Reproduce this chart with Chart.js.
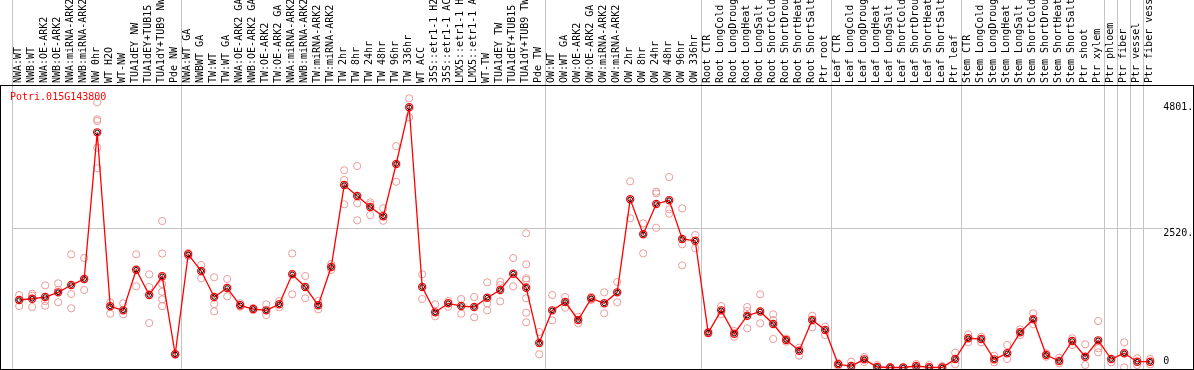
<!DOCTYPE html>
<html>
<head>
<meta charset="utf-8">
<script src="https://cdn.jsdelivr.net/npm/chart.js@4"></script>
<style>
  body { margin: 0; background: #fff; }
</style>
</head>
<body>
<canvas id="canvas" width="1194" height="370"></canvas>
<script>
const geneId = 'Potri.015G143800';

const samples = [
  'NWA:WT', 'NWB:WT', 'NWA:OE-ARK2', 'NWB:OE-ARK2', 'NWA:miRNA-ARK2', 'NWB:miRNA-ARK2',
  'NW 0hr', 'WT H2O', 'WT-NW', 'TUA1dEY NW', 'TUA1dEY+TUB15', 'TUA1dY+TUB9 NW', 'Pde NW',
  'NWA:WT GA', 'NWBWT GA', 'TW:WT', 'TW:WT GA', 'NWA:OE-ARK2 GA', 'NWB:OE-ARK2 GA',
  'TW:OE-ARK2', 'TW:OE-ARK2 GA', 'NWA:miRNA-ARK2', 'NWB:miRNA-ARK2', 'TW:miRNA-ARK2',
  'TW:miRNA-ARK2', 'TW 2hr', 'TW 8hr', 'TW 24hr', 'TW 48hr', 'TW 96hr', 'TW 336hr',
  'WT ACC', '35S::etr1-1 H2', '35S::etr1-1 AC', 'LMX5::etr1-1 H', 'LMX5::etr1-1 A',
  'WT-TW', 'TUA1dEY TW', 'TUA1dEY+TUB15', 'TUA1dY+TUB9 TW', 'Pde TW',
  'OW:WT', 'OW:WT GA', 'OW:OE-ARK2', 'OW:OE-ARK2 GA', 'OW:miRNA-ARK2', 'OW:miRNA-ARK2',
  'OW 2hr', 'OW 8hr', 'OW 24hr', 'OW 48hr', 'OW 96hr', 'OW 336hr',
  'Root CTR', 'Root LongCold', 'Root LongDroug', 'Root LongHeat', 'Root LongSalt',
  'Root ShortCold', 'Root ShortDrou', 'Root ShortHeat', 'Root ShortSalt', 'Ptr root',
  'Leaf CTR', 'Leaf LongCold', 'Leaf LongDroug', 'Leaf LongHeat', 'Leaf LongSalt',
  'Leaf ShortCold', 'Leaf ShortDrou', 'Leaf ShortHeat', 'Leaf ShortSalt', 'Ptr leaf',
  'Stem CTR', 'Stem LongCold', 'Stem LongDroug', 'Stem LongHeat', 'Stem LongSalt',
  'Stem ShortCold', 'Stem ShortDrou', 'Stem ShortHeat', 'Stem ShortSalt', 'Ptr shoot',
  'Ptr xylem', 'Ptr phloem', 'Ptr fiber', 'Ptr vessel', 'Ptr fiber vess'
];

// mean expression per sample (red line)
const means = [
  1222, 1245, 1276, 1361, 1493, 1602, 4257, 1108, 1035, 1770,
  1312, 1651, 239, 2049, 1747, 1276, 1439, 1126, 1059, 1035,
  1144, 1687, 1457, 1126, 1819, 3303, 3104, 2905, 2737, 3684,
  4710, 1457, 999, 1162, 1113, 1095, 1264, 1403, 1698, 1444,
  443, 1035, 1186, 860, 1253, 1162, 1361, 3045, 2411, 2960,
  3027, 2326, 2295, 630, 1035, 612, 938, 1014, 787, 498,
  304, 860, 679, 58, 27, 148, 9, 0, 0, 27,
  4, 0, 154, 529, 516, 148, 257, 637, 873, 226,
  118, 480, 196, 492, 154, 257, 105, 105
];

// single replicates per sample (pale circles)
const reps = [
  [1312, 1222, 1113], [1336, 1300, 1095], [1488, 1204, 1119], [1524, 1403, 1180],
  [2049, 1330, 1072], [1982, 1602, 1403], [4800, 4493, 4462, 3979, 3606], [1180, 974],
  [1162, 963], [2049, 1470], [1687, 1457, 805], [2652, 2064, 1511, 1372, 1234, 1113],
  [239, 239], [2073, 2018], [1855, 1615], [1633, 1149, 1017], [1602, 1289], [1162, 1100],
  [1077, 1041], [1144, 950], [1204, 1090], [2064, 1325], [1656, 1253], [1204, 1053],
  [1873, 1765], [3570, 3394, 2954], [3647, 2972, 2664], [2990, 2954, 2760], [2882, 2657],
  [4009, 3363], [4873, 4529], [1687, 1240], [1144, 927], [1204, 1100], [1240, 974],
  [1276, 909], [1542, 1162, 1035], [1553, 1493, 1198], [1982, 1470],
  [2429, 1868, 1615, 1584, 1253, 992, 818], [643, 239], [1312, 854], [1276, 1082],
  [919, 800], [1281, 1222], [1361, 981], [1548, 1180], [3370, 2701], [2610, 2067],
  [3182, 3153, 2530], [3448, 2863, 2784], [2882, 2230, 1850], [2398, 2158], [643, 615],
  [1113, 963], [661, 557], [1095, 1023, 710], [1325, 800], [963, 860, 516], [525, 467],
  [358, 214], [938, 728], [739, 588], [81, 27], [105, 0], [190, 100], [45, 0], [9, 0],
  [0], [63, 0], [45, 0], [27, 0], [268, 58], [601, 456], [557, 456], [214, 94],
  [407, 154], [691, 588], [981, 782], [257, 196], [177, 76], [529, 407], [420, 45],
  [842, 348, 275], [94], [456, 0], [167, 45], [154, 58]
];

const yTicks = [0, 2520, 4801];
const yTickLabels = ['0', '2520.', '4801.'];
// sample index where a new group begins (gray separators)
const groupStarts = [0, 13, 41, 53, 63, 73, 84, 85, 86, 87, 88];

const monoFont = 'DejaVu Sans Mono';

let repPoints = [];
for (let i = 0; i < reps.length; i++) {
  for (let j = 0; j < reps[i].length; j++) {
    repPoints.push({ x: i, y: reps[i][j] });
  }
}

function noPadding(s) {
  s.paddingTop = 0;
  s.paddingBottom = 0;
  s.paddingLeft = 0;
  s.paddingRight = 0;
}

// outer frame and gene name
const framePlugin = {
  id: 'frame',
  afterDraw(chart) {
    const c = chart.ctx;
    const a = chart.chartArea;
    c.save();
    c.strokeStyle = '#000';
    c.lineWidth = 1;
    c.strokeRect(0.5, a.top + 0.5, chart.width - 1, a.bottom - a.top - 1);
    c.fillStyle = '#ff0000';
    c.font = '10px "' + monoFont + '"';
    c.textBaseline = 'middle';
    c.textAlign = 'left';
    c.fillText(geneId, 10, a.top + 12);
    c.restore();
  }
};

let ctx = document.getElementById('canvas').getContext('2d');

let chart = new Chart(ctx, {
  type: 'line',
  data: {
    labels: samples,
    datasets: [
      {
        data: means,
        borderColor: '#ff0000',
        borderWidth: 1.3,
        tension: 0,
        pointRadius: 3.6,
        pointBorderColor: '#ff0000',
        pointBorderWidth: 1.2,
        pointBackgroundColor: 'rgba(0,0,0,0)',
        order: 2
      },
      {
        data: means,
        showLine: false,
        pointRadius: 2.3,
        pointBorderColor: '#000',
        pointBorderWidth: 1,
        pointBackgroundColor: 'rgba(0,0,0,0)',
        order: 1
      },
      {
        data: repPoints,
        xAxisID: 'xr',
        showLine: false,
        pointRadius: 3.6,
        pointBorderColor: '#ec9a9a',
        pointBorderWidth: 1,
        pointBackgroundColor: 'rgba(0,0,0,0)',
        order: 3
      }
    ]
  },
  options: {
    responsive: false,
    animation: false,
    layout: { autoPadding: false, padding: { left: 12.7, right: 0, top: 0, bottom: 0 } },
    plugins: {
      legend: { display: false },
      tooltip: { enabled: false }
    },
    scales: {
      x: {
        type: 'category',
        position: 'top',
        offset: true,
        border: { display: false },
        grid: {
          offset: true,
          drawTicks: true,
          tickLength: 85,
          lineWidth: 1,
          color: (c) => groupStarts.includes(c.index) ? '#c4c4c4' : 'rgba(0,0,0,0)'
        },
        ticks: {
          autoSkip: false,
          minRotation: 90,
          maxRotation: 90,
          padding: -83,
          labelOffset: 11,
          color: '#000',
          font: { family: monoFont, size: 10 }
        },
        afterFit: (s) => { s.height = 85; noPadding(s); }
      },
      xr: {
        type: 'linear',
        display: false,
        min: -0.5,
        max: 87.5
      },
      y: {
        position: 'right',
        min: -45,
        max: 5114,
        border: { display: false },
        afterBuildTicks: (s) => { s.ticks = yTicks.map(v => ({ value: v })); },
        grid: {
          drawTicks: true,
          tickLength: 6,
          color: (c) => (c.tick && c.tick.value === 2520) ? '#c4c4c4' : 'rgba(0,0,0,0)'
        },
        ticks: {
          padding: 0.5,
          labelOffset: 5,
          color: '#000',
          font: { family: monoFont, size: 10, lineHeight: 1.1 },
          callback: (v) => {
            const k = yTicks.indexOf(v);
            return k === 0 ? [yTickLabels[0], '', ''] : yTickLabels[k];
          }
        },
        afterFit: (s) => { s.width = 37.3; noPadding(s); }
      }
    }
  },
  plugins: [framePlugin]
});
</script>
</body>
</html>
